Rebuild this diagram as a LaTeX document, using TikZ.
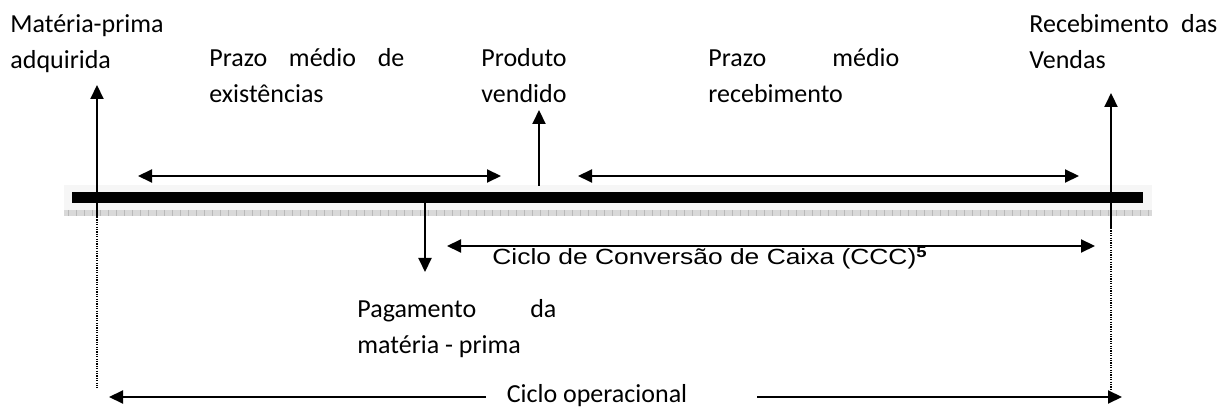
\documentclass[tikz,border=0pt]{standalone}
\usepackage{fontspec}
\setmainfont{Carlito}
\newfontfamily\arialfont{Liberation Sans}
\usepackage{graphicx}
\usetikzlibrary{arrows.meta}

\begin{document}
\begin{tikzpicture}[
    x=0.5pt, y=-0.5pt,
    label/.style={inner sep=0pt, anchor=base west, font=\fontsize{13}{18}\selectfont},
    para/.style={label, align=justify},
    arrow/.style={-{Triangle[length=7pt, width=6.5pt]}, line width=1pt},
    darrow/.style={{Triangle[length=7pt, width=6.5pt]}-{Triangle[length=7pt, width=6.5pt]}, line width=1pt},
    guide/.style={line width=0.6pt, dash pattern=on 0.6pt off 0.6pt}
]

    % Frame
    \useasboundingbox (0,0) rectangle (1229,410);

    % Time line
    \fill[gray!7] (64,185) rectangle (1152,210);
    \fill[gray!30] (64,210) rectangle (1152,216);
    \foreach \x in {68,76,...,1148}
        \draw[gray!55, line width=0.4pt] (\x,210) -- (\x,216);
    \fill[black] (72,192) rectangle (1143,203);

    % Labels above
    \node[para, text width=80pt] (mat) at (10,33) {Matéria-prima\\adquirida};
    \node[para, text width=97.5pt] (pme) at (209,67) {Prazo médio de\linebreak existências};
    \node[para, text width=60pt] (prod) at (481,67) {Produto\\vendido};
    \node[para, text width=95.5pt] (pmr) at (708,67) {Prazo médio\linebreak recebimento};
    \node[para, text width=94pt] (rec) at (1029,33) {Recebimento das\linebreak Vendas};

    % Labels below
    \node[para, text width=99.5pt] (pag) at (357,318) {Pagamento da\linebreak matéria - prima};
    \node[label, font=\arialfont\fontsize{11}{13}\selectfont] (ccc) at (492,265)
        {\scalebox{1.2}[1]{Ciclo de Conversão de Caixa (CCC)\textsuperscript{\textbf{5}}}};
    \node[label, anchor=base] (op) at (597,402) {Ciclo operacional};

    % Arrow ends
    \coordinate (matBot) at (97,217);
    \coordinate (matTop) at (97,85);
    \coordinate (matEnd) at (97,388);
    \coordinate (prodBot) at (539,186);
    \coordinate (prodTop) at (539,110);
    \coordinate (pagTop) at (425,203);
    \coordinate (pagBot) at (425,272);
    \coordinate (recBot) at (1111,228);
    \coordinate (recTop) at (1111,93);
    \coordinate (recEnd) at (1111,390);
    \coordinate (pmeL) at (138,176);
    \coordinate (pmeR) at (501,176);
    \coordinate (pmrL) at (578,176);
    \coordinate (pmrR) at (1079,176);
    \coordinate (cccL) at (447,246);
    \coordinate (cccR) at (1095,246);
    \coordinate (opL) at (109,397);
    \coordinate (opA) at (486,397);
    \coordinate (opB) at (757,397);
    \coordinate (opR) at (1122,397);

    % Events
    \draw[arrow] (matBot) -- (matTop);
    \draw[guide] (matBot) -- (matEnd);
    \draw[arrow] (prodBot) -- (prodTop);
    \draw[arrow] (pagTop) -- (pagBot);
    \draw[arrow] (recBot) -- (recTop);
    \draw[guide] (recBot) -- (recEnd);

    % Periods
    \draw[darrow] (pmeL) -- (pmeR);
    \draw[darrow] (pmrL) -- (pmrR);
    \draw[darrow] (cccL) -- (cccR);
    \draw[arrow] (opA) -- (opL);
    \draw[arrow] (opB) -- (opR);

\end{tikzpicture}
\end{document}
